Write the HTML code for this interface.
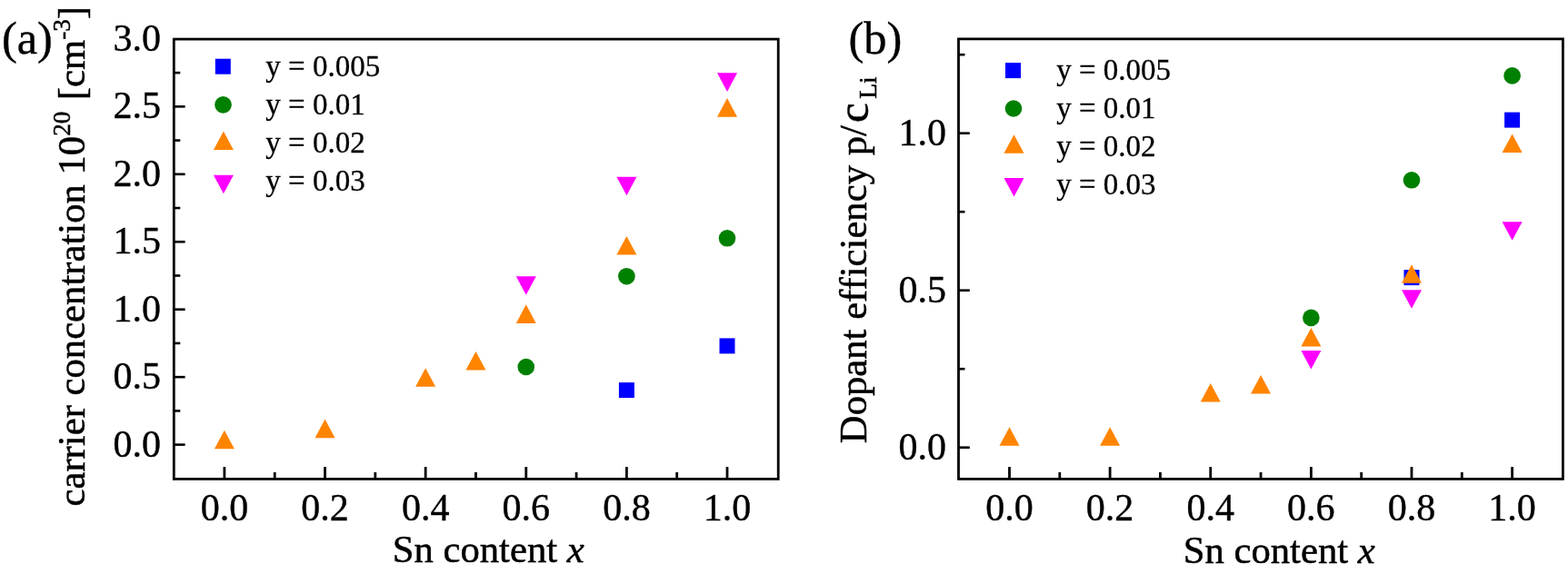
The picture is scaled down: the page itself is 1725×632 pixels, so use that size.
<!DOCTYPE html>
<html><head><meta charset="utf-8"><title>Carrier concentration and dopant efficiency vs Sn content</title>
<style>
html,body{margin:0;padding:0;background:#fff;}
body{width:1725px;height:632px;overflow:hidden;}
svg{display:block;}
.t{font-family:"Liberation Serif", "Times New Roman", serif;font-size:42px;fill:#000;stroke:#000;stroke-width:0.4px;}
.lg{font-family:"Liberation Serif", "Times New Roman", serif;font-size:33px;fill:#000;stroke:#000;stroke-width:0.3px;}
.pl{font-family:"Liberation Serif", "Times New Roman", serif;font-size:50.5px;fill:#000;stroke:#000;stroke-width:0.4px;}
.tt{font-family:"Liberation Serif", "Times New Roman", serif;font-size:42.7px;fill:#000;stroke:#000;stroke-width:0.5px;}
</style></head>
<body>
<svg width="1725" height="632" viewBox="0 0 1725 632">
<rect x="0" y="0" width="1725" height="632" fill="#fff"/>
<rect x="191.3" y="43.1" width="664.90" height="484.30" fill="none" stroke="#000" stroke-width="2.8"/>
<line x1="246.90" y1="527.4" x2="246.90" y2="514.10" stroke="#000" stroke-width="2.8"/>
<line x1="302.21" y1="527.4" x2="302.21" y2="519.90" stroke="#000" stroke-width="2.8"/>
<line x1="357.52" y1="527.4" x2="357.52" y2="514.10" stroke="#000" stroke-width="2.8"/>
<line x1="412.83" y1="527.4" x2="412.83" y2="519.90" stroke="#000" stroke-width="2.8"/>
<line x1="468.14" y1="527.4" x2="468.14" y2="514.10" stroke="#000" stroke-width="2.8"/>
<line x1="523.45" y1="527.4" x2="523.45" y2="519.90" stroke="#000" stroke-width="2.8"/>
<line x1="578.76" y1="527.4" x2="578.76" y2="514.10" stroke="#000" stroke-width="2.8"/>
<line x1="634.07" y1="527.4" x2="634.07" y2="519.90" stroke="#000" stroke-width="2.8"/>
<line x1="689.38" y1="527.4" x2="689.38" y2="514.10" stroke="#000" stroke-width="2.8"/>
<line x1="744.69" y1="527.4" x2="744.69" y2="519.90" stroke="#000" stroke-width="2.8"/>
<line x1="800.00" y1="527.4" x2="800.00" y2="514.10" stroke="#000" stroke-width="2.8"/>
<line x1="191.3" y1="489.60" x2="203.60" y2="489.60" stroke="#000" stroke-width="2.6"/>
<line x1="191.3" y1="415.15" x2="203.60" y2="415.15" stroke="#000" stroke-width="2.6"/>
<line x1="191.3" y1="340.70" x2="203.60" y2="340.70" stroke="#000" stroke-width="2.6"/>
<line x1="191.3" y1="266.25" x2="203.60" y2="266.25" stroke="#000" stroke-width="2.6"/>
<line x1="191.3" y1="191.80" x2="203.60" y2="191.80" stroke="#000" stroke-width="2.6"/>
<line x1="191.3" y1="117.35" x2="203.60" y2="117.35" stroke="#000" stroke-width="2.6"/>
<line x1="191.3" y1="452.38" x2="198.30" y2="452.38" stroke="#000" stroke-width="2.6"/>
<line x1="191.3" y1="377.93" x2="198.30" y2="377.93" stroke="#000" stroke-width="2.6"/>
<line x1="191.3" y1="303.48" x2="198.30" y2="303.48" stroke="#000" stroke-width="2.6"/>
<line x1="191.3" y1="229.03" x2="198.30" y2="229.03" stroke="#000" stroke-width="2.6"/>
<line x1="191.3" y1="154.57" x2="198.30" y2="154.57" stroke="#000" stroke-width="2.6"/>
<line x1="191.3" y1="80.12" x2="198.30" y2="80.12" stroke="#000" stroke-width="2.6"/>
<text x="177.0" y="502.70" text-anchor="end" class="t">0.0</text>
<text x="177.0" y="428.25" text-anchor="end" class="t">0.5</text>
<text x="177.0" y="353.80" text-anchor="end" class="t">1.0</text>
<text x="177.0" y="279.35" text-anchor="end" class="t">1.5</text>
<text x="177.0" y="204.90" text-anchor="end" class="t">2.0</text>
<text x="177.0" y="130.45" text-anchor="end" class="t">2.5</text>
<text x="177.0" y="56.00" text-anchor="end" class="t">3.0</text>
<text x="246.90" y="573.0" text-anchor="middle" class="t">0.0</text>
<text x="357.52" y="573.0" text-anchor="middle" class="t">0.2</text>
<text x="468.14" y="573.0" text-anchor="middle" class="t">0.4</text>
<text x="578.76" y="573.0" text-anchor="middle" class="t">0.6</text>
<text x="689.38" y="573.0" text-anchor="middle" class="t">0.8</text>
<text x="800.00" y="573.0" text-anchor="middle" class="t">1.0</text>
<rect x="680.88" y="421.10" width="17.00" height="17.00" fill="#0000ff"/>
<rect x="791.50" y="372.40" width="17.00" height="17.00" fill="#0000ff"/>
<circle cx="578.76" cy="404.00" r="9.30" fill="#008000"/>
<circle cx="689.38" cy="304.20" r="9.30" fill="#008000"/>
<circle cx="800.00" cy="262.30" r="9.30" fill="#008000"/>
<polygon points="246.90,473.70 257.90,494.30 235.90,494.30" fill="#ff8400"/>
<polygon points="357.52,461.60 368.52,482.20 346.52,482.20" fill="#ff8400"/>
<polygon points="468.14,405.20 479.14,425.80 457.14,425.80" fill="#ff8400"/>
<polygon points="523.45,387.00 534.45,407.60 512.45,407.60" fill="#ff8400"/>
<polygon points="578.76,335.30 589.76,355.90 567.76,355.90" fill="#ff8400"/>
<polygon points="689.38,260.00 700.38,280.60 678.38,280.60" fill="#ff8400"/>
<polygon points="800.00,108.10 811.00,128.70 789.00,128.70" fill="#ff8400"/>
<polygon points="567.76,304.20 589.76,304.20 578.76,324.80" fill="#ff00ff"/>
<polygon points="678.38,194.70 700.38,194.70 689.38,215.30" fill="#ff00ff"/>
<polygon points="789.00,80.30 811.00,80.30 800.00,100.90" fill="#ff00ff"/>
<rect x="236.80" y="64.70" width="17.00" height="17.00" fill="#0000ff"/>
<circle cx="245.50" cy="115.40" r="9.30" fill="#008000"/>
<polygon points="245.90,144.50 256.90,165.10 234.90,165.10" fill="#ff8400"/>
<polygon points="234.90,192.70 256.90,192.70 245.90,213.30" fill="#ff00ff"/>
<text x="292.3" y="84.4" class="lg">y = 0.005</text>
<text x="292.3" y="126.4" class="lg">y = 0.01</text>
<text x="292.3" y="168.4" class="lg">y = 0.02</text>
<text x="292.3" y="210.4" class="lg">y = 0.03</text>
<text x="431.7" y="619.0" class="tt">Sn content <tspan font-style="italic">x</tspan></text>
<text x="1.9" y="58.8" class="pl">(a)</text>
<text transform="translate(93.4,557.5) rotate(-90)" class="tt">carrier concentration 10<tspan dy="-16" font-size="27">20</tspan><tspan dy="16" dx="2"> [cm</tspan><tspan dy="-16" font-size="27">-3</tspan><tspan dy="16" dx="0">]</tspan></text>
<rect x="1054.5" y="42.9" width="664.90" height="484.50" fill="none" stroke="#000" stroke-width="2.8"/>
<line x1="1110.50" y1="527.4" x2="1110.50" y2="514.10" stroke="#000" stroke-width="2.8"/>
<line x1="1165.81" y1="527.4" x2="1165.81" y2="519.90" stroke="#000" stroke-width="2.8"/>
<line x1="1221.12" y1="527.4" x2="1221.12" y2="514.10" stroke="#000" stroke-width="2.8"/>
<line x1="1276.43" y1="527.4" x2="1276.43" y2="519.90" stroke="#000" stroke-width="2.8"/>
<line x1="1331.74" y1="527.4" x2="1331.74" y2="514.10" stroke="#000" stroke-width="2.8"/>
<line x1="1387.05" y1="527.4" x2="1387.05" y2="519.90" stroke="#000" stroke-width="2.8"/>
<line x1="1442.36" y1="527.4" x2="1442.36" y2="514.10" stroke="#000" stroke-width="2.8"/>
<line x1="1497.67" y1="527.4" x2="1497.67" y2="519.90" stroke="#000" stroke-width="2.8"/>
<line x1="1552.98" y1="527.4" x2="1552.98" y2="514.10" stroke="#000" stroke-width="2.8"/>
<line x1="1608.29" y1="527.4" x2="1608.29" y2="519.90" stroke="#000" stroke-width="2.8"/>
<line x1="1663.60" y1="527.4" x2="1663.60" y2="514.10" stroke="#000" stroke-width="2.8"/>
<line x1="1054.5" y1="492.70" x2="1066.80" y2="492.70" stroke="#000" stroke-width="2.6"/>
<line x1="1054.5" y1="319.70" x2="1066.80" y2="319.70" stroke="#000" stroke-width="2.6"/>
<line x1="1054.5" y1="146.70" x2="1066.80" y2="146.70" stroke="#000" stroke-width="2.6"/>
<line x1="1054.5" y1="406.20" x2="1061.50" y2="406.20" stroke="#000" stroke-width="2.6"/>
<line x1="1054.5" y1="233.20" x2="1061.50" y2="233.20" stroke="#000" stroke-width="2.6"/>
<line x1="1054.5" y1="60.20" x2="1061.50" y2="60.20" stroke="#000" stroke-width="2.6"/>
<text x="1041.0" y="505.80" text-anchor="end" class="t">0.0</text>
<text x="1041.0" y="332.80" text-anchor="end" class="t">0.5</text>
<text x="1041.0" y="159.80" text-anchor="end" class="t">1.0</text>
<text x="1110.50" y="573.0" text-anchor="middle" class="t">0.0</text>
<text x="1221.12" y="573.0" text-anchor="middle" class="t">0.2</text>
<text x="1331.74" y="573.0" text-anchor="middle" class="t">0.4</text>
<text x="1442.36" y="573.0" text-anchor="middle" class="t">0.6</text>
<text x="1552.98" y="573.0" text-anchor="middle" class="t">0.8</text>
<text x="1663.60" y="573.0" text-anchor="middle" class="t">1.0</text>
<rect x="1544.48" y="297.10" width="17.00" height="17.00" fill="#0000ff"/>
<rect x="1655.10" y="123.60" width="17.00" height="17.00" fill="#0000ff"/>
<circle cx="1442.36" cy="349.90" r="9.30" fill="#008000"/>
<circle cx="1552.98" cy="198.30" r="9.30" fill="#008000"/>
<circle cx="1663.60" cy="83.40" r="9.30" fill="#008000"/>
<polygon points="1110.50,470.20 1121.50,490.80 1099.50,490.80" fill="#ff8400"/>
<polygon points="1221.12,470.20 1232.12,490.80 1210.12,490.80" fill="#ff8400"/>
<polygon points="1331.74,422.00 1342.74,442.60 1320.74,442.60" fill="#ff8400"/>
<polygon points="1387.05,412.90 1398.05,433.50 1376.05,433.50" fill="#ff8400"/>
<polygon points="1442.36,361.00 1453.36,381.60 1431.36,381.60" fill="#ff8400"/>
<polygon points="1552.98,291.20 1563.98,311.80 1541.98,311.80" fill="#ff8400"/>
<polygon points="1663.60,147.50 1674.60,168.10 1652.60,168.10" fill="#ff8400"/>
<polygon points="1431.36,385.90 1453.36,385.90 1442.36,406.50" fill="#ff00ff"/>
<polygon points="1541.98,319.20 1563.98,319.20 1552.98,339.80" fill="#ff00ff"/>
<polygon points="1652.60,244.20 1674.60,244.20 1663.60,264.80" fill="#ff00ff"/>
<rect x="1106.00" y="69.10" width="17.00" height="17.00" fill="#0000ff"/>
<circle cx="1115.00" cy="119.50" r="9.30" fill="#008000"/>
<polygon points="1115.50,148.20 1126.50,168.80 1104.50,168.80" fill="#ff8400"/>
<polygon points="1104.50,195.90 1126.50,195.90 1115.50,216.50" fill="#ff00ff"/>
<text x="1162.2" y="88.3" class="lg">y = 0.005</text>
<text x="1162.2" y="130.3" class="lg">y = 0.01</text>
<text x="1162.2" y="172.3" class="lg">y = 0.02</text>
<text x="1162.2" y="214.3" class="lg">y = 0.03</text>
<text x="1301.7" y="619.8" class="tt">Sn content <tspan font-style="italic">x</tspan></text>
<text x="933.5" y="59.3" class="pl">(b)</text>
<text transform="translate(953.2,488.2) rotate(-90)" class="tt">Dopant efficiency p/<tspan dx="3" dy="2" font-size="49">c</tspan><tspan dx="4.5" dy="9" font-size="27.5">Li</tspan></text>
</svg>
</body></html>
